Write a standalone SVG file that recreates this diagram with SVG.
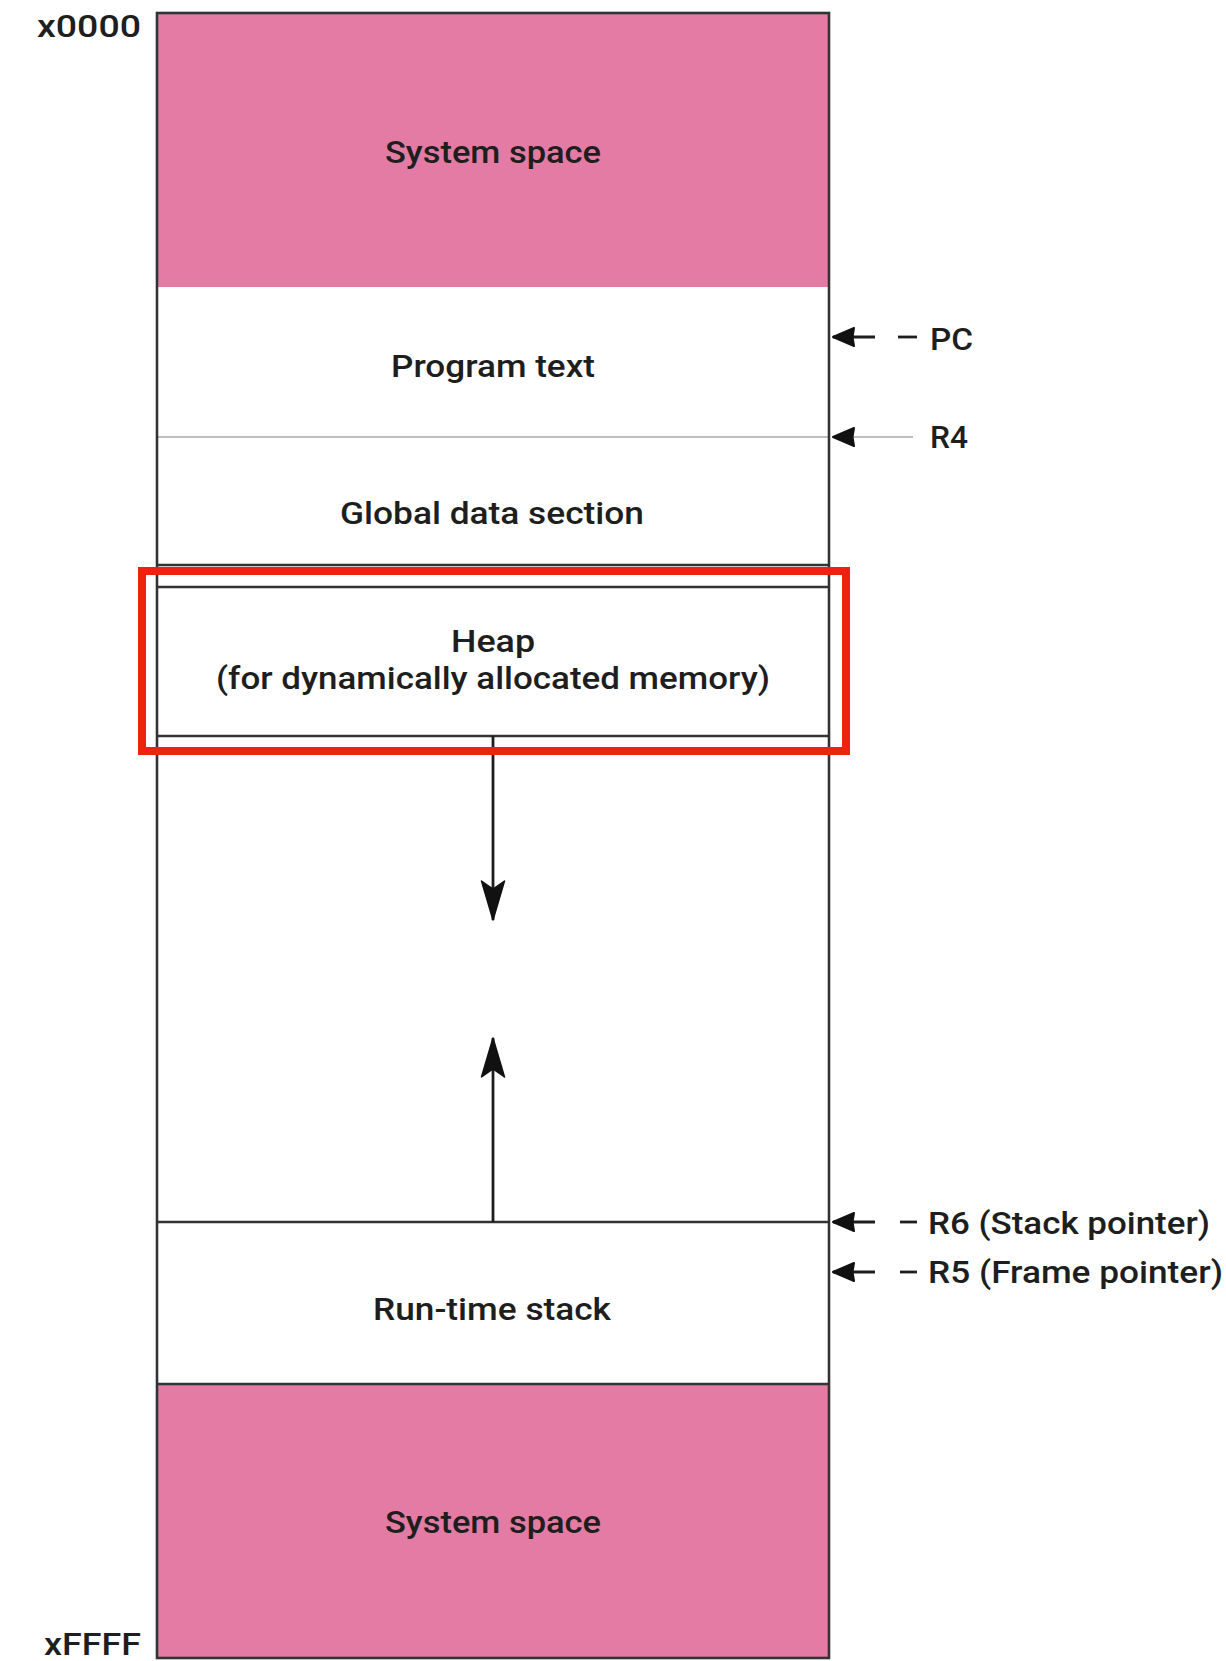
<svg xmlns="http://www.w3.org/2000/svg" width="1226" height="1661" viewBox="0 0 1226 1661">
  <style>
    .pink { fill: #E37BA4; stroke: none; }
    .blank { fill: #FFFFFF; stroke: none; }
    .border { fill: none; stroke: #333333; stroke-width: 2.6; }
    .div { stroke: #333333; stroke-width: 2.6; fill: none; }
    .thin { stroke: #A8A8A8; stroke-width: 1.6; fill: none; }
    .lbl { font-family: Roboto, "Liberation Sans", Arial, sans-serif; font-weight: 500; font-size: 31px; fill: #1E1E1E; text-anchor: middle; }
    .side { font-family: Roboto, "Liberation Sans", Arial, sans-serif; font-weight: 500; font-size: 31px; fill: #1E1E1E; }
    .ptr { stroke: #1E1E1E; stroke-width: 2.8; fill: none; }
    .hl { fill: none; stroke: #EE2211; stroke-width: 8; }
  </style>
  <defs>
    <marker id="ph" viewBox="-26 -12 30 24" refX="0" refY="0" markerWidth="30" markerHeight="24" markerUnits="userSpaceOnUse" orient="auto">
      <path d="M0,0 L-21,-9 L-19.5,0 L-21,9 Z" fill="#111111" stroke="#111111" stroke-width="2" stroke-linejoin="round"/>
    </marker>
    <marker id="vh" viewBox="-42 -14 46 28" refX="0" refY="0" markerWidth="46" markerHeight="28" markerUnits="userSpaceOnUse" orient="auto">
      <path d="M0,0 L-39,-11.5 L-31,0 L-39,11.5 Z" fill="#111111" stroke="#111111" stroke-width="1.5" stroke-linejoin="round"/>
    </marker>
  </defs>
  <rect x="0" y="0" width="1226" height="1661" fill="#FFFFFF"/>

  <g id="system-space-top">
    <rect class="pink" x="157" y="13" width="672" height="274"/>
    <text class="lbl" x="493" y="163" textLength="216" lengthAdjust="spacingAndGlyphs">System space</text>
  </g>
  <g id="program-text">
    <rect class="blank" x="157" y="287" width="672" height="150"/>
    <text class="lbl" x="493" y="377" textLength="204" lengthAdjust="spacingAndGlyphs">Program text</text>
  </g>
  <g id="global-data">
    <line class="thin" x1="157" y1="437" x2="829" y2="437"/>
    <text class="lbl" x="492" y="524" textLength="304" lengthAdjust="spacingAndGlyphs">Global data section</text>
    <line class="div" x1="157" y1="565" x2="829" y2="565"/>
  </g>
  <g id="heap">
    <line class="div" x1="157" y1="587" x2="829" y2="587"/>
    <text class="lbl" x="493" y="652" textLength="84" lengthAdjust="spacingAndGlyphs">Heap</text>
    <text class="lbl" x="493" y="689" textLength="554" lengthAdjust="spacingAndGlyphs">(for dynamically allocated memory)</text>
    <line class="div" x1="157" y1="736" x2="829" y2="736"/>
  </g>
  <g id="run-time-stack">
    <line class="div" x1="157" y1="1222" x2="829" y2="1222"/>
    <text class="lbl" x="492" y="1320" textLength="238" lengthAdjust="spacingAndGlyphs">Run-time stack</text>
  </g>
  <g id="system-space-bottom">
    <rect class="pink" x="157" y="1384" width="672" height="274"/>
    <line class="div" x1="157" y1="1384" x2="829" y2="1384"/>
    <text class="lbl" x="493" y="1533" textLength="216" lengthAdjust="spacingAndGlyphs">System space</text>
  </g>
  <g id="memory-outline">
    <rect class="border" x="157" y="13" width="672" height="1645"/>
  </g>
  <g id="addresses">
    <text class="side" x="37" y="37" textLength="104" lengthAdjust="spacingAndGlyphs">x0000</text>
    <text class="side" x="44" y="1655" textLength="97" lengthAdjust="spacingAndGlyphs">xFFFF</text>
  </g>
  <g id="pointer-labels">
    <text class="side" x="930" y="350" textLength="43" lengthAdjust="spacingAndGlyphs">PC</text>
    <text class="side" x="930" y="448" textLength="38" lengthAdjust="spacingAndGlyphs">R4</text>
    <text class="side" x="928" y="1234" textLength="282" lengthAdjust="spacingAndGlyphs">R6 (Stack pointer)</text>
    <text class="side" x="928" y="1283" textLength="295" lengthAdjust="spacingAndGlyphs">R5 (Frame pointer)</text>
  </g>

  <g id="connectors">
    <line class="ptr" x1="875" y1="337" x2="833" y2="337" marker-end="url(#ph)"/>
    <line class="ptr" x1="898" y1="337" x2="917" y2="337"/>
    <line class="thin" x1="913" y1="437" x2="833" y2="437" marker-end="url(#ph)"/>
    <line class="ptr" x1="875" y1="1222" x2="833" y2="1222" marker-end="url(#ph)"/>
    <line class="ptr" x1="900" y1="1222" x2="917" y2="1222"/>
    <line class="ptr" x1="875" y1="1272" x2="833" y2="1272" marker-end="url(#ph)"/>
    <line class="ptr" x1="900" y1="1272" x2="917" y2="1272"/>
    <line class="ptr" x1="493" y1="736" x2="493" y2="920" marker-end="url(#vh)"/>
    <line class="ptr" x1="493" y1="1222" x2="493" y2="1038" marker-end="url(#vh)"/>
  </g>

  <g id="highlight">
    <rect class="hl" x="142" y="571" width="704" height="180"/>
  </g>
</svg>
